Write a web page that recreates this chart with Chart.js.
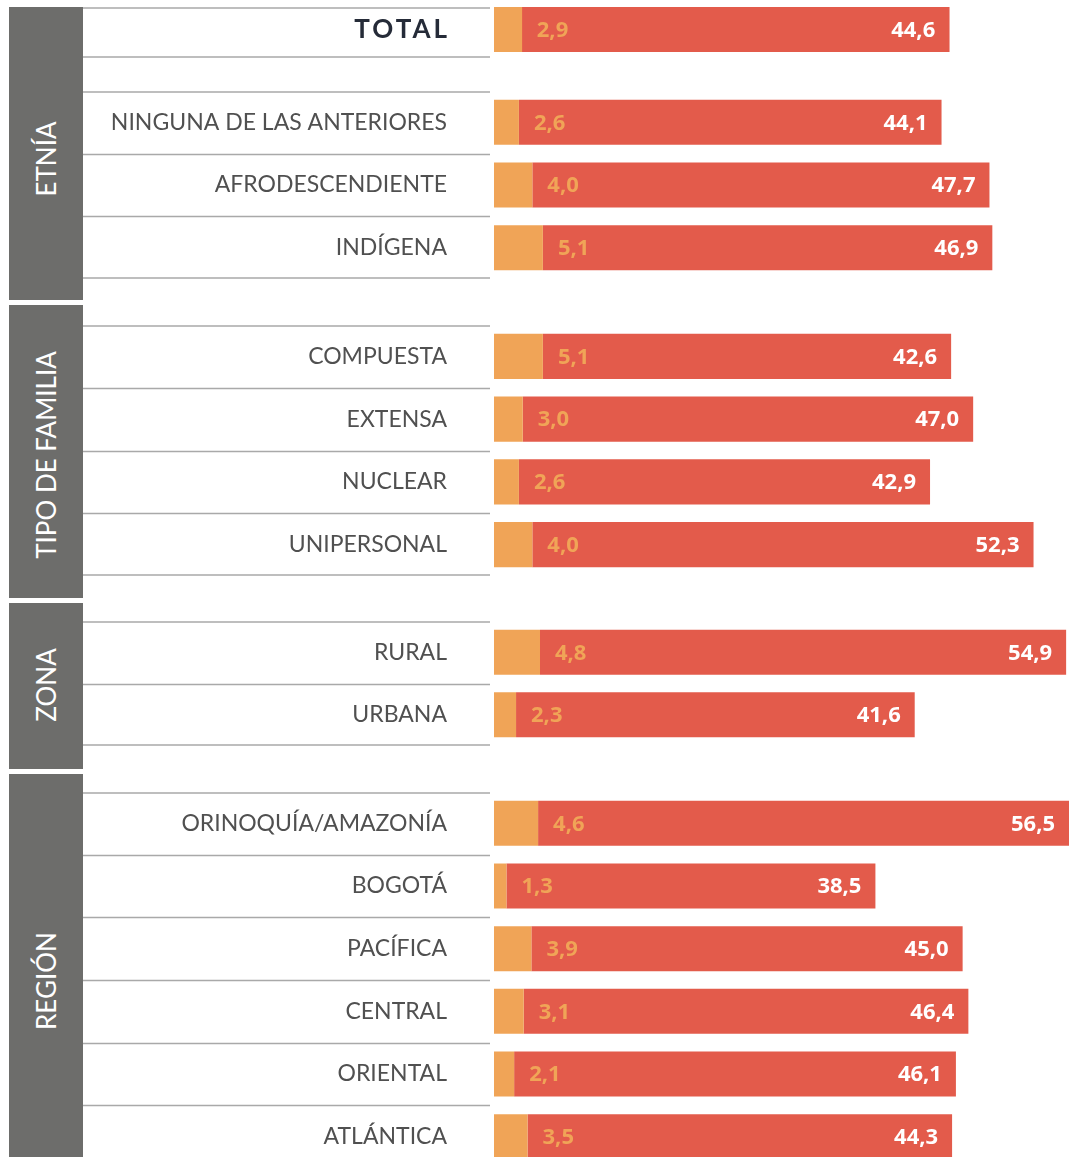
<!DOCTYPE html>
<html lang="es">
<head>
<meta charset="utf-8">
<script src="https://cdn.jsdelivr.net/npm/chart.js@4.4.1/dist/chart.umd.min.js"></script>
<style>
  body { margin: 0; background: #fff; }
  #wrap { position: relative; width: 1069px; height: 1157px; overflow: hidden; font-family: Lato, sans-serif; }
  .box { position: absolute; left: 9px; width: 74px; background: #6d6d6b; }
  .boxLabel { position: absolute; left: 46px; color: #fff; font-size: 26px; white-space: nowrap;
              transform: translate(-50%, -50%) rotate(-90deg); }
  canvas { position: absolute; left: 83px; }
</style>
</head>
<body>
<div id="wrap">
  <div class="box" style="top:7px;height:293px"></div>
  <div class="box" style="top:305px;height:293px"></div>
  <div class="box" style="top:603px;height:166px"></div>
  <div class="box" style="top:774px;height:383px"></div>
  <div class="boxLabel" style="top:159px">ETNÍA</div>
  <div class="boxLabel" style="top:455px">TIPO DE FAMILIA</div>
  <div class="boxLabel" style="top:685px">ZONA</div>
  <div class="boxLabel" style="top:981px">REGIÓN</div>
</div>
<script>
// ================= DATA =================
const totalLabels = ["TOTAL"];
const totalLow = [2.9];
const totalHigh = [44.6];

const etniaLabels = ["NINGUNA DE LAS ANTERIORES", "AFRODESCENDIENTE", "INDÍGENA"];
const etniaLow = [2.6, 4.0, 5.1];
const etniaHigh = [44.1, 47.7, 46.9];

const familiaLabels = ["COMPUESTA", "EXTENSA", "NUCLEAR", "UNIPERSONAL"];
const familiaLow = [5.1, 3.0, 2.6, 4.0];
const familiaHigh = [42.6, 47.0, 42.9, 52.3];

const zonaLabels = ["RURAL", "URBANA"];
const zonaLow = [4.8, 2.3];
const zonaHigh = [54.9, 41.6];

const regionLabels = ["ORINOQUÍA/AMAZONÍA", "BOGOTÁ", "PACÍFICA", "CENTRAL", "ORIENTAL", "ATLÁNTICA"];
const regionLow = [4.6, 1.3, 3.9, 3.1, 2.1, 3.5];
const regionHigh = [56.5, 38.5, 45.0, 46.4, 46.1, 44.3];

// ================= STYLE =================
const ORANGE = "#f0a457";
const RED = "#e35b4b";
const LINE = "#a9a9a9";
const TEXT = "#505050";
const ROW_H = 62.7;
const AXIS_W = 494 - 83;   // label column inside each canvas
const LINE_END = 407;
const X_MAX = 60;

const groups = [
  { labels: totalLabels, low: totalLow, high: totalHigh, top: 7, height: 51, padBottom: 6, bar: 1, total: true },
  { labels: etniaLabels, low: etniaLow, high: etniaHigh, top: 91, height: 188 },
  { labels: familiaLabels, low: familiaLow, high: familiaHigh, top: 325, height: 251 },
  { labels: zonaLabels, low: zonaLow, high: zonaHigh, top: 621, height: 125 },
  { labels: regionLabels, low: regionLow, high: regionHigh, top: 792, height: 376 }
];

const fmt = v => v.toFixed(1).replace(".", ",");

// ================= PLUGINS =================
const rowLines = {
  id: "rowLines",
  beforeDraw(chart) {
    const { ctx, chartArea } = chart;
    const n = chart.data.labels.length;
    const step = (chartArea.bottom - chartArea.top) / n;
    const ys = [1, chart.height - 1];
    for (let i = 1; i < n; i++) ys.push(Math.round(chartArea.top + i * step) + 0.5);
    ctx.save();
    ctx.strokeStyle = LINE;
    ctx.lineWidth = 1.5;
    ys.forEach(yy => {
      ctx.beginPath();
      ctx.moveTo(0, yy);
      ctx.lineTo(LINE_END, yy);
      ctx.stroke();
    });
    ctx.restore();
  }
};

// wider tracking for the TOTAL label only
const spacedTicks = {
  id: "spacedTicks",
  beforeDraw(chart) { chart.ctx.letterSpacing = "3px"; },
  afterDraw(chart) { chart.ctx.letterSpacing = "0px"; }
};

const valueLabels = {
  id: "valueLabels",
  afterDatasetsDraw(chart) {
    const ctx = chart.ctx;
    const lowVals = chart.data.datasets[0].data;
    const highVals = chart.data.datasets[1].data;
    ctx.save();
    ctx.letterSpacing = "0px";
    ctx.font = "bold 22px 'Open Sans'";
    ctx.textBaseline = "middle";
    chart.getDatasetMeta(1).data.forEach((bar, i) => {
      const { x, y, base } = bar.getProps(["x", "y", "base"], true);
      ctx.fillStyle = ORANGE;
      ctx.textAlign = "left";
      ctx.fillText(fmt(lowVals[i]), base + 15, y + 1);
      ctx.fillStyle = "#fff";
      ctx.textAlign = "right";
      ctx.fillText(fmt(highVals[i]), Math.min(x, chart.chartArea.right) - 14, y + 1);
    });
    ctx.restore();
  }
};

// ================= CHARTS =================
const wrap = document.getElementById("wrap");

groups.forEach(g => {
  const canvas = document.createElement("canvas");
  canvas.width = 1069 - 83;
  canvas.height = g.height;
  canvas.style.top = g.top + "px";
  wrap.appendChild(canvas);

  new Chart(canvas, {
    type: "bar",
    data: {
      labels: g.labels,
      datasets: [
        { data: g.low, backgroundColor: ORANGE },
        { data: g.high, backgroundColor: RED }
      ]
    },
    options: {
      indexAxis: "y",
      responsive: false,
      animation: false,
      layout: { padding: { top: 0, bottom: g.padBottom || 0, left: 0, right: 0 } },
      datasets: { bar: { barPercentage: g.bar || 45 / ROW_H, categoryPercentage: 1, borderWidth: 0 } },
      scales: {
        x: { stacked: true, min: 0, max: X_MAX, display: false },
        y: {
          stacked: true,
          grid: { display: false, drawTicks: false },
          border: { display: false },
          ticks: {
            padding: g.total ? 44 : 47,
            color: g.total ? "#252b38" : TEXT,
            font: g.total ? { family: "Lato", size: 26, weight: "bold" } : { family: "Lato", size: 23 }
          },
          afterFit(scale) {
            scale.width = AXIS_W;
            scale.paddingTop = 0;
            scale.paddingBottom = 0;
          }
        }
      },
      plugins: { legend: { display: false }, tooltip: { enabled: false } }
    },
    plugins: g.total ? [rowLines, spacedTicks, valueLabels] : [rowLines, valueLabels]
  });
});
</script>
</body>
</html>
